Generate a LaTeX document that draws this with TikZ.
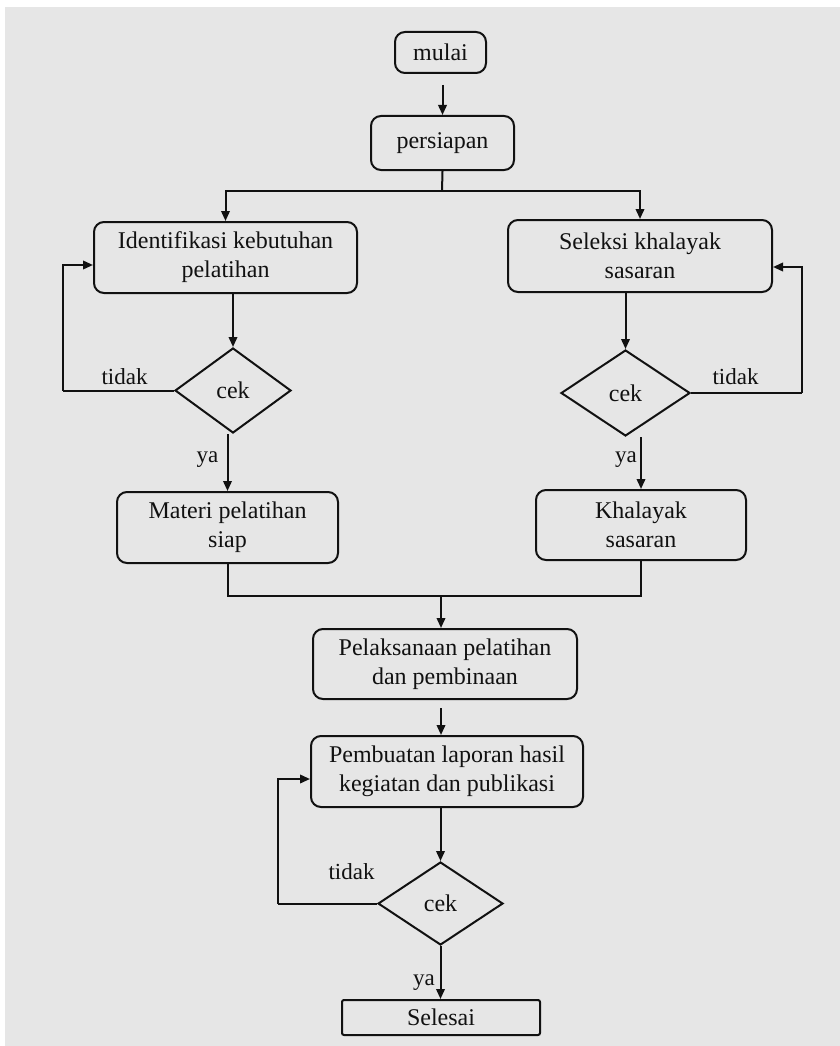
\documentclass[tikz,border=0pt]{standalone}
\usepackage{fontspec}
\setmainfont{Liberation Serif}
\usetikzlibrary{shapes.geometric,arrows.meta}
\definecolor{bggray}{HTML}{E6E6E6}
\definecolor{ink}{HTML}{111111}
\tikzset{
  box/.style={draw=ink, line width=2pt, rounded corners=10pt, align=center, inner sep=0pt,
    font=\fontsize{24}{29}\selectfont, text=ink},
  sqbox/.style={draw=ink, line width=2pt, rounded corners=2pt, align=center, inner sep=0pt,
    font=\fontsize{24}{29}\selectfont, text=ink},
  decide/.style={draw=ink, line width=2pt, diamond, inner sep=0pt, align=center,
    font=\fontsize{24}{29}\selectfont, text=ink},
  lbl/.style={font=\fontsize{23}{28}\selectfont, text=ink, inner sep=0pt},
  line/.style={draw=ink, line width=2pt},
  arr/.style={line, -{Triangle[length=10pt,width=8.5pt]}}
}
\begin{document}
\begin{tikzpicture}[x=1pt,y=-1pt]
\useasboundingbox (0,0) rectangle (840,1046);
\fill[white] (0,0) rectangle (840,1046);
\fill[bggray] (5,7) rectangle (840,1046);

% nodes
\node[box, minimum width=91pt, minimum height=41pt] (mulai) at (440.5,52.5) {mulai};
\node[box, minimum width=143pt, minimum height=54pt] (persiapan) at (442.5,143) {persiapan};
\node[box, minimum width=263pt, minimum height=71pt] (ident) at (225.5,257.5) {Identifikasi kebutuhan\\pelatihan};
\node[box, minimum width=264pt, minimum height=72pt] (seleksi) at (640,256) {Seleksi khalayak\\sasaran};
\node[decide, minimum width=116pt, minimum height=85pt] (d1) at (233,390.5) {cek};
\node[decide, minimum width=129pt, minimum height=86pt] (d2) at (625.5,393) {cek};
\node[box, minimum width=221pt, minimum height=71pt] (materi) at (227.5,527.5) {Materi pelatihan\\siap};
\node[box, minimum width=210pt, minimum height=70pt] (khalayak) at (641,525) {Khalayak\\sasaran};
\node[box, minimum width=264pt, minimum height=70pt] (pelaks) at (445,664) {Pelaksanaan pelatihan\\dan pembinaan};
\node[box, minimum width=272pt, minimum height=71pt] (pemb) at (447,771.5) {Pembuatan laporan hasil\\kegiatan dan publikasi};
\node[decide, minimum width=125pt, minimum height=83pt] (d3) at (440.5,903.5) {cek};
\node[sqbox, minimum width=198pt, minimum height=35pt] (selesai) at (441,1017.5) {Selesai};

% labels
\node[lbl] (t1) at (124.5,377) {tidak};
\node[lbl] (t2) at (735.5,377) {tidak};
\node[lbl] (t3) at (351.5,872) {tidak};
\node[lbl] (y1) at (207.5,460) {ya};
\node[lbl] (y2) at (626,460) {ya};
\node[lbl] (y3) at (424,983) {ya};

% helper coordinates
\coordinate (j1) at (442,191);
\coordinate (j2) at (441,596);
\coordinate (fbL) at (63,390.5);
\coordinate (fbR) at (802,393);
\coordinate (fbB) at (278,903.5);

% connectors
\draw[arr, shorten <=11pt] (mulai.south -| persiapan.north) -- (persiapan.north);
\draw[line] (persiapan.south) -- (j1);
\draw[arr] (j1) -| (ident.north);
\draw[arr] (j1) -| (seleksi.north);

\draw[arr] (d1.north |- ident.south) -- (d1.north);
\draw[line] (d1.west) -- (fbL);
\draw[arr] (fbL) |- ([yshift=-7.5pt]ident.west);
\draw[arr] (materi.north |- d1.south) -- (materi.north);

\draw[arr] (d2.north |- seleksi.south) -- (d2.north);
\draw[line] (d2.east) -- (fbR);
\draw[arr] (fbR) |- ([yshift=-11pt]seleksi.east);
\draw[arr] (khalayak.north |- d2.south) -- (khalayak.north);

\draw[line] (materi.south) |- (j2) -| (khalayak.south);
\draw[arr] (j2) -- (j2 |- pelaks.north);

\draw[arr, shorten <=5pt] (pemb.north -| j2) ++(0,-32) -- (pemb.north -| j2);
\draw[arr] (pemb.south -| d3.north) -- (d3.north);
\draw[line] (d3.west) -- (fbB);
\draw[arr] (fbB) |- ([yshift=-7.5pt]pemb.west);
\draw[arr] (d3.south) -- (d3.south |- selesai.north);
\end{tikzpicture}
\end{document}
